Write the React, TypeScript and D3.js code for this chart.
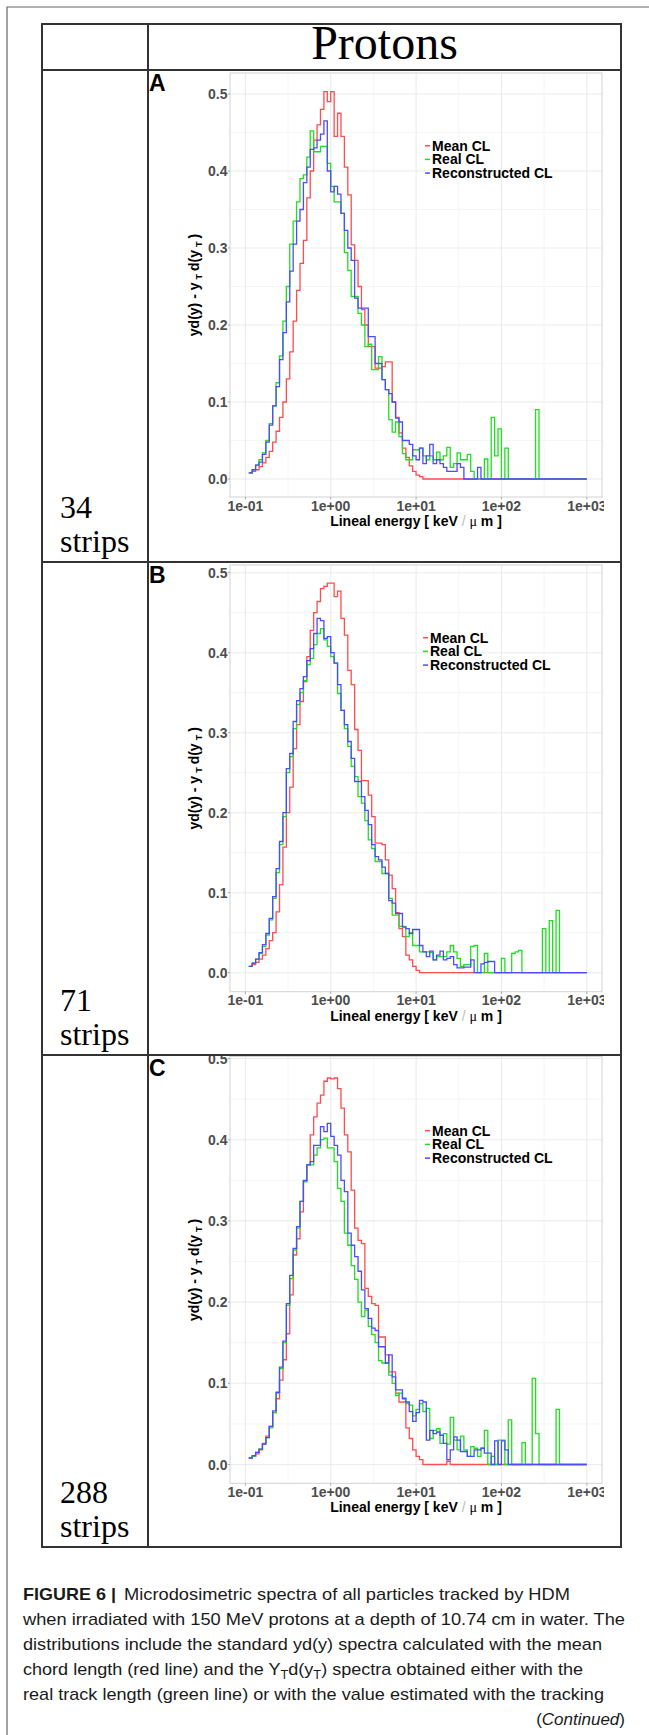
import React from 'react'
import * as d3 from 'd3'

const WIDTH = 649
const HEIGHT = 1735

// histogram bins: 25 per decade, first drawn edge at 10^-0.96, last edge at 10^3
const binEdges = d3.range(100).map((k) => Math.pow(10, -0.96 + 0.04 * k))

// ---- panel A (34 strips) ----
const meanA = [
  0.008, 0.010, 0.012, 0.016, 0.021, 0.028, 0.036, 0.048, 0.062, 0.080,
  0.100, 0.130, 0.165, 0.205, 0.245, 0.280, 0.310, 0.365, 0.400, 0.440,
  0.460, 0.480, 0.503, 0.490, 0.503, 0.445, 0.475, 0.445, 0.405, 0.369,
  0.304, 0.284, 0.250, 0.220, 0.200, 0.172, 0.172, 0.144, 0.144, 0.146,
  0.152, 0.152, 0.100, 0.080, 0.060, 0.040, 0.028, 0.017, 0.010, 0.005,
  0.003, 0, 0, 0, 0, 0, 0, 0, 0, 0,
  0, 0, 0, 0, 0, 0, 0, 0, 0, 0,
  0, 0, 0, 0, 0, 0, 0, 0, 0, 0,
  0, 0, 0, 0, 0, 0, 0, 0, 0, 0,
  0, 0, 0, 0, 0, 0, 0, 0, 0, 0,
]
const realA = [
  0.008, 0.012, 0.018, 0.025, 0.034, 0.050, 0.072, 0.095, 0.125, 0.160,
  0.205, 0.250, 0.305, 0.335, 0.360, 0.390, 0.395, 0.418, 0.452, 0.425,
  0.425, 0.432, 0.432, 0.410, 0.380, 0.360, 0.360, 0.345, 0.294, 0.271,
  0.237, 0.237, 0.215, 0.200, 0.172, 0.175, 0.142, 0.142, 0.159, 0.129,
  0.116, 0.077, 0.061, 0.074, 0.055, 0.033, 0.025, 0.025, 0.038, 0.038,
  0.040, 0.030, 0.025, 0.030, 0.025, 0.035, 0.025, 0.030, 0.041, 0.015,
  0.020, 0.034, 0.025, 0.025, 0.032, 0.010, 0, 0, 0, 0.026,
  0, 0.080, 0.030, 0.065, 0, 0.040, 0, 0, 0, 0,
  0, 0, 0, 0, 0.090, 0, 0, 0, 0, 0,
  0, 0, 0, 0, 0, 0, 0, 0, 0, 0,
]
const recoA = [
  0.008, 0.012, 0.018, 0.022, 0.032, 0.048, 0.070, 0.095, 0.120, 0.155,
  0.190, 0.230, 0.270, 0.305, 0.335, 0.350, 0.385, 0.405, 0.428, 0.430,
  0.440, 0.448, 0.465, 0.400, 0.373, 0.380, 0.370, 0.345, 0.323, 0.300,
  0.284, 0.235, 0.222, 0.222, 0.222, 0.185, 0.185, 0.150, 0.150, 0.129,
  0.116, 0.111, 0.100, 0.079, 0.074, 0.050, 0.050, 0.045, 0.030, 0.025,
  0.040, 0.020, 0.030, 0.045, 0.020, 0.025, 0.020, 0.015, 0.010, 0.010,
  0.010, 0.020, 0.015, 0, 0, 0, 0, 0.015, 0, 0,
  0, 0, 0, 0, 0, 0, 0, 0, 0, 0,
  0, 0, 0, 0, 0, 0, 0, 0, 0, 0,
  0, 0, 0, 0, 0, 0, 0, 0, 0, 0,
]

// ---- panel B (71 strips) ----
const meanB = [
  0.008, 0.010, 0.013, 0.017, 0.022, 0.030, 0.040, 0.050, 0.076, 0.110,
  0.157, 0.200, 0.232, 0.280, 0.310, 0.339, 0.364, 0.395, 0.428, 0.450,
  0.464, 0.480, 0.483, 0.487, 0.487, 0.470, 0.477, 0.443, 0.422, 0.378,
  0.360, 0.304, 0.278, 0.240, 0.240, 0.222, 0.195, 0.162, 0.162, 0.160,
  0.141, 0.122, 0.105, 0.075, 0.055, 0.045, 0.022, 0.016, 0.008, 0.003,
  0, 0, 0, 0, 0, 0, 0, 0, 0, 0,
  0, 0, 0, 0, 0, 0, 0, 0, 0, 0,
  0, 0, 0, 0, 0, 0, 0, 0, 0, 0,
  0, 0, 0, 0, 0, 0, 0, 0, 0, 0,
  0, 0, 0, 0, 0, 0, 0, 0, 0, 0,
]
const realB = [
  0.008, 0.012, 0.017, 0.024, 0.033, 0.047, 0.066, 0.093, 0.125, 0.160,
  0.195, 0.250, 0.270, 0.305, 0.335, 0.350, 0.365, 0.385, 0.393, 0.410,
  0.424, 0.430, 0.416, 0.408, 0.395, 0.387, 0.349, 0.328, 0.305, 0.283,
  0.258, 0.245, 0.220, 0.212, 0.190, 0.166, 0.155, 0.139, 0.139, 0.124,
  0.124, 0.093, 0.072, 0.072, 0.058, 0.058, 0.045, 0.050, 0.034, 0.034,
  0.026, 0.026, 0.026, 0.025, 0.016, 0.020, 0.020, 0.020, 0.026, 0.034,
  0.026, 0.018, 0.008, 0.010, 0.010, 0.033, 0.034, 0, 0, 0.024,
  0, 0, 0, 0, 0.018, 0, 0, 0.024, 0.026, 0.028,
  0, 0, 0, 0, 0, 0, 0.055, 0, 0.065, 0,
  0.078, 0, 0, 0, 0, 0, 0, 0, 0, 0,
]
const recoB = [
  0.008, 0.012, 0.017, 0.025, 0.035, 0.049, 0.068, 0.095, 0.130, 0.164,
  0.200, 0.255, 0.274, 0.314, 0.340, 0.355, 0.370, 0.390, 0.405, 0.424,
  0.443, 0.440, 0.418, 0.420, 0.400, 0.387, 0.360, 0.328, 0.310, 0.289,
  0.268, 0.239, 0.239, 0.220, 0.203, 0.185, 0.160, 0.145, 0.141, 0.132,
  0.124, 0.090, 0.087, 0.074, 0.074, 0.057, 0.055, 0.049, 0.054, 0.054,
  0.034, 0.026, 0.020, 0.027, 0.016, 0.022, 0.027, 0.016, 0.018, 0.020,
  0.010, 0.006, 0.006, 0.007, 0.007, 0.016, 0, 0, 0.011, 0.013,
  0.014, 0.014, 0, 0, 0, 0, 0, 0, 0, 0,
  0, 0, 0, 0, 0, 0, 0, 0, 0, 0,
  0, 0, 0, 0, 0, 0, 0, 0, 0, 0,
]

// ---- panel C (288 strips) ----
const meanC = [
  0.008, 0.010, 0.013, 0.018, 0.026, 0.035, 0.047, 0.064, 0.081, 0.104,
  0.129, 0.161, 0.209, 0.258, 0.278, 0.311, 0.349, 0.369, 0.406, 0.428,
  0.445, 0.455, 0.472, 0.476, 0.475, 0.476, 0.463, 0.439, 0.406, 0.385,
  0.338, 0.291, 0.276, 0.272, 0.217, 0.207, 0.198, 0.196, 0.157, 0.157,
  0.135, 0.114, 0.114, 0.088, 0.077, 0.077, 0.045, 0.032, 0.018, 0.010,
  0.006, 0, 0, 0, 0, 0, 0, 0, 0.004, 0,
  0, 0, 0, 0, 0, 0, 0, 0, 0, 0,
  0, 0, 0, 0, 0, 0, 0, 0, 0, 0,
  0, 0, 0, 0, 0, 0, 0, 0, 0, 0,
  0, 0, 0, 0, 0, 0, 0, 0, 0, 0,
]
const realC = [
  0.008, 0.010, 0.015, 0.019, 0.025, 0.033, 0.045, 0.064, 0.088, 0.118,
  0.150, 0.196, 0.229, 0.264, 0.291, 0.324, 0.348, 0.369, 0.369, 0.381,
  0.390, 0.400, 0.402, 0.390, 0.390, 0.373, 0.340, 0.324, 0.285, 0.270,
  0.245, 0.228, 0.200, 0.182, 0.190, 0.170, 0.160, 0.150, 0.128, 0.125,
  0.125, 0.110, 0.100, 0.085, 0.088, 0.082, 0.075, 0.073, 0.060, 0.068,
  0.075, 0.065, 0.069, 0.032, 0.042, 0.044, 0.026, 0.038, 0.025, 0.058,
  0.030, 0.018, 0.035, 0.018, 0.010, 0.022, 0.020, 0.010, 0.020, 0.042,
  0, 0.010, 0, 0.030, 0.030, 0, 0.055, 0, 0, 0,
  0.027, 0, 0, 0.106, 0.038, 0, 0, 0, 0, 0,
  0.068, 0, 0, 0, 0, 0, 0, 0, 0, 0,
]
const recoC = [
  0.008, 0.011, 0.015, 0.019, 0.025, 0.033, 0.047, 0.066, 0.089, 0.120,
  0.152, 0.198, 0.233, 0.266, 0.293, 0.324, 0.350, 0.369, 0.373, 0.393,
  0.393, 0.416, 0.410, 0.420, 0.404, 0.393, 0.381, 0.350, 0.336, 0.285,
  0.270, 0.256, 0.238, 0.215, 0.192, 0.180, 0.168, 0.165, 0.145, 0.145,
  0.125, 0.135, 0.108, 0.092, 0.092, 0.081, 0.077, 0.065, 0.053, 0.064,
  0.079, 0.077, 0.030, 0.042, 0.038, 0.040, 0.036, 0.026, 0.006, 0.018,
  0.034, 0.030, 0.016, 0.016, 0.010, 0.010, 0.018, 0.018, 0.020, 0.014,
  0.014, 0, 0.029, 0, 0.029, 0.018, 0, 0, 0, 0,
  0, 0, 0, 0, 0, 0, 0, 0, 0, 0,
  0, 0, 0, 0, 0, 0, 0, 0, 0, 0,
]

const seriesNames = ['Mean CL', 'Real CL', 'Reconstructed CL']
const seriesColors = ['#ff4c4c', '#1ee01e', '#4c4cff']
const panelLetters = ['A', 'B', 'C']
const stripCounts = ['34', '71', '288']
const panelSeries = [
  [meanA, realA, recoA],
  [meanB, realB, recoB],
  [meanC, realC, recoC],
]

const xTicks = [0.1, 1, 10, 100, 1000]
const xTickLabels = ['1e-01', '1e+00', '1e+01', '1e+02', '1e+03']
const xMinor = [0.316, 3.16, 31.6, 316]
const yTicks = [0, 0.1, 0.2, 0.3, 0.4, 0.5]
const yTickLabels = ['0.0', '0.1', '0.2', '0.3', '0.4', '0.5']
const yMinor = [0.05, 0.15, 0.25, 0.35, 0.45]

const captionLines = [
  'when irradiated with 150 MeV protons at a depth of 10.74 cm in water. The',
  'distributions include the standard yd(y) spectra calculated with the mean',
]

// geometry of the three table rows and their plots
const layout = [
  { rowTop: 70, rowBottom: 562, plotTop: 73, plotBottom: 497, y0: 479, y5: 94, legendX: 432, legendY: 150.7, numY: 518 },
  { rowTop: 562, rowBottom: 1055, plotTop: 565, plotBottom: 991.7, y0: 972.7, y5: 572.7, legendX: 430, legendY: 642.7, numY: 1011 },
  { rowTop: 1055, rowBottom: 1547, plotTop: 1056.5, plotBottom: 1483.3, y0: 1464.5, y5: 1058.5, legendX: 432, legendY: 1135.7, numY: 1503 },
]

const TABLE_LEFT = 42
const TABLE_RIGHT = 621
const TABLE_TOP = 24
const COL_DIV = 148
const PLOT_LEFT = 230
const PLOT_RIGHT = 602
const SANS = '"Liberation Sans", Arial, Helvetica, sans-serif'
const SERIF = '"Liberation Serif", "Times New Roman", serif'

function Panel({ idx }: { idx: number }) {
  const L = layout[idx]
  const x = d3.scaleLog().domain([Math.pow(10, -1.18), Math.pow(10, 3.178)]).range([PLOT_LEFT, PLOT_RIGHT])
  const y = d3.scaleLinear().domain([0, 0.5]).range([L.y0, L.y5])
  const lineFn = d3
    .line<number>()
    .x((_d, i) => x(binEdges[i]))
    .y((d) => y(d))
    .curve(d3.curveStepAfter)

  const yMid = (L.plotTop + L.plotBottom) / 2
  const clipId = `cell-${idx}`

  return (
    <g>
      <defs>
        <clipPath id={clipId}>
          <rect x={COL_DIV + 1} y={L.rowTop + 1} width={604 - COL_DIV - 1} height={L.rowBottom - L.rowTop - 2} />
        </clipPath>
      </defs>
      <g clipPath={`url(#${clipId})`}>
        <rect x={PLOT_LEFT} y={L.plotTop} width={PLOT_RIGHT - PLOT_LEFT} height={L.plotBottom - L.plotTop} fill="#fff" />
        {/* minor grid */}
        {xMinor.map((v) => (
          <line key={`xm${v}`} x1={x(v)} x2={x(v)} y1={L.plotTop} y2={L.plotBottom} stroke="#f4f4f4" strokeWidth={0.9} />
        ))}
        {yMinor.map((v) => (
          <line key={`ym${v}`} x1={PLOT_LEFT} x2={PLOT_RIGHT} y1={y(v)} y2={y(v)} stroke="#f4f4f4" strokeWidth={0.9} />
        ))}
        {/* major grid */}
        {xTicks.map((v) => (
          <line key={`xg${v}`} x1={x(v)} x2={x(v)} y1={L.plotTop} y2={L.plotBottom} stroke="#ebebeb" strokeWidth={1.1} />
        ))}
        {yTicks.map((v) => (
          <line key={`yg${v}`} x1={PLOT_LEFT} x2={PLOT_RIGHT} y1={y(v)} y2={y(v)} stroke="#ebebeb" strokeWidth={1.1} />
        ))}
        <rect
          x={PLOT_LEFT}
          y={L.plotTop}
          width={PLOT_RIGHT - PLOT_LEFT}
          height={L.plotBottom - L.plotTop}
          fill="none"
          stroke="#d2d2d2"
          strokeWidth={1}
        />

        {/* step histograms: red, green, then blue on top */}
        {panelSeries[idx].map((vals, si) => (
          <path key={si} d={lineFn(vals) || ''} fill="none" stroke={seriesColors[si]} strokeWidth={1.3} />
        ))}

        {/* y axis */}
        {yTicks.map((v, i) => (
          <g key={`yt${v}`}>
            <line x1={PLOT_LEFT - 2} x2={PLOT_LEFT} y1={y(v)} y2={y(v)} stroke="#aaa" strokeWidth={1} />
            <text
              x={PLOT_LEFT - 2.5}
              y={y(v) + 5}
              textAnchor="end"
              fontFamily={SANS}
              fontWeight="bold"
              fontSize={14}
              fill="#4d4d4d"
            >
              {yTickLabels[i]}
            </text>
          </g>
        ))}
        {/* x axis */}
        {xTicks.map((v, i) => (
          <g key={`xt${v}`}>
            <line x1={x(v)} x2={x(v)} y1={L.plotBottom} y2={L.plotBottom + 2.5} stroke="#aaa" strokeWidth={1} />
            <text
              x={x(v)}
              y={L.plotBottom + 13.5}
              textAnchor="middle"
              fontFamily={SANS}
              fontWeight="bold"
              fontSize={14}
              fill="#4d4d4d"
            >
              {xTickLabels[i]}
            </text>
          </g>
        ))}
        <text
          x={(PLOT_LEFT + PLOT_RIGHT) / 2}
          y={L.plotBottom + 29}
          textAnchor="middle"
          fontFamily={SANS}
          fontWeight="bold"
          fontSize={14}
          fill="#000"
        >
          Lineal energy [ keV
          <tspan fill="#bdbdbd" fontWeight="normal"> / </tspan>
          <tspan fontFamily={SERIF} fontWeight="normal">μ</tspan> m ]
        </text>
        <text
          transform={`translate(199,${yMid}) rotate(-90)`}
          textAnchor="middle"
          fontFamily={SANS}
          fontWeight="bold"
          fontSize={14}
          fill="#000"
        >
          yd(y) - y
          <tspan fontSize={9} dy={3} dx={3}>T</tspan>
          <tspan dy={-3} dx={3}>d(y</tspan>
          <tspan fontSize={9} dy={3} dx={3}>T</tspan>
          <tspan dy={-3} dx={3}>)</tspan>
        </text>

        {/* legend */}
        {seriesNames.map((name, si) => {
          const by = L.legendY + si * 13.7
          return (
            <g key={name}>
              <line x1={L.legendX - 7} x2={L.legendX - 2} y1={by - 5} y2={by - 5} stroke={seriesColors[si]} strokeWidth={1.5} />
              <text x={L.legendX} y={by} fontFamily={SANS} fontWeight="bold" fontSize={14} fill="#000">
                {name}
              </text>
            </g>
          )
        })}

        <text x={149} y={L.rowTop + 21} fontFamily={SANS} fontWeight="bold" fontSize={23} fill="#000">
          {panelLetters[idx]}
        </text>
      </g>

      {/* strip count in the left column */}
      <text x={60} y={L.numY} fontFamily={SERIF} fontSize={32} fill="#000">
        {stripCounts[idx]}
      </text>
      <text x={60} y={L.numY + 34} fontFamily={SERIF} fontSize={32} fill="#000">
        strips
      </text>
    </g>
  )
}

export default function App(): JSX.Element {
  const tableBottom = layout[2].rowBottom
  return (
    <svg
      width={WIDTH}
      height={HEIGHT}
      viewBox={`0 0 ${WIDTH} ${HEIGHT}`}
      xmlns="http://www.w3.org/2000/svg"
      style={{ position: 'absolute', left: 0, top: 0, background: '#fff' }}
    >
      <rect x={0} y={0} width={WIDTH} height={HEIGHT} fill="#fff" />
      {/* outer page frame */}
      <path d={`M7,${HEIGHT} V7 H${WIDTH}`} fill="none" stroke="#666" strokeWidth={1.2} />

      {[0, 1, 2].map((i) => (
        <Panel key={i} idx={i} />
      ))}

      {/* table */}
      <g stroke="#333" strokeWidth={2} fill="none">
        <rect x={TABLE_LEFT} y={TABLE_TOP} width={TABLE_RIGHT - TABLE_LEFT} height={tableBottom - TABLE_TOP} />
        <line x1={COL_DIV} x2={COL_DIV} y1={TABLE_TOP} y2={tableBottom} />
        {layout.map((L) => (
          <line key={L.rowTop} x1={TABLE_LEFT} x2={TABLE_RIGHT} y1={L.rowTop} y2={L.rowTop} />
        ))}
      </g>
      <text x={(COL_DIV + TABLE_RIGHT) / 2} y={59} textAnchor="middle" fontFamily={SERIF} fontSize={48} fill="#000">
        Protons
      </text>

      {/* caption */}
      <g fontFamily={SANS} fontSize={17} fill="#1a1a1a">
        <text x={23} y={1600} fontWeight="bold" textLength={93} lengthAdjust="spacingAndGlyphs">
          FIGURE 6 |
        </text>
        <text x={124} y={1600} textLength={446} lengthAdjust="spacingAndGlyphs">
          Microdosimetric spectra of all particles tracked by HDM
        </text>
        <text x={23} y={1625} textLength={602} lengthAdjust="spacingAndGlyphs">
          {captionLines[0]}
        </text>
        <text x={23} y={1650} textLength={579} lengthAdjust="spacingAndGlyphs">
          {captionLines[1]}
        </text>
        <text x={23} y={1675} textLength={560} lengthAdjust="spacingAndGlyphs">
          chord length (red line) and the Y<tspan fontSize={12} dy={4}>T</tspan>
          <tspan dy={-4}>d(y</tspan>
          <tspan fontSize={12} dy={4}>T</tspan>
          <tspan dy={-4}>) spectra obtained either with the</tspan>
        </text>
        <text x={23} y={1700} textLength={581} lengthAdjust="spacingAndGlyphs">
          real track length (green line) or with the value estimated with the tracking
        </text>
        <text x={625} y={1725} textAnchor="end">
          (<tspan fontStyle="italic">Continued</tspan>)
        </text>
      </g>
    </svg>
  )
}
